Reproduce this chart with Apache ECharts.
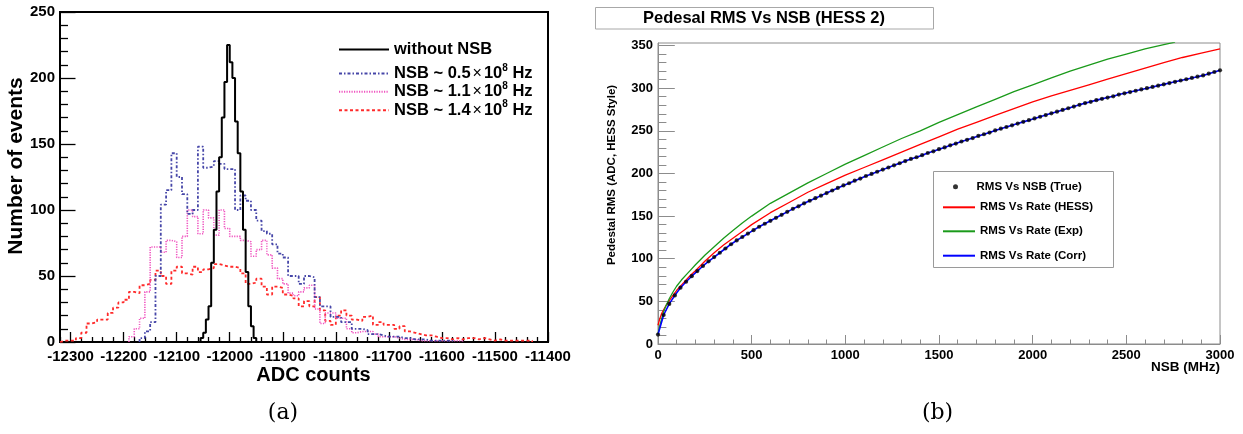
<!DOCTYPE html>
<html>
<head>
<meta charset="utf-8">
<script src="https://cdn.jsdelivr.net/npm/echarts@6/dist/echarts.min.js"></script>
<style>
html,body{margin:0;padding:0;background:#fff;}
#chart{width:1243px;height:434px;}
</style>
</head>
<body>
<div id="chart"></div>
<script>
// ---------- Panel (a): ADC histograms ----------
const adcMajorTicks = [-12300,-12200,-12100,-12000,-11900,-11800,-11700,-11600,-11500,-11400];
const countTicks = [0,50,100,150,200,250];

// without NSB: first bin edge, bin width, counts
const noNsbStart = -12055, noNsbWidth = 5;
const noNsbCounts = [3,7,17,27,60,85,114,140,170,197,225,212,200,167,143,114,85,53,27,12,3];

// NSB ~ 0.5e8 Hz
const nsb05Start = -12170, nsb05Width = 10;
const nsb05Counts = [3,8,15,50,104,115,143,125,112,97,100,148,132,133,137,135,131,131,100,111,107,100,92,84,82,74,67,64,50,50,44,50,49,34,27,27,19,19,15,15,10,10,9,6,6,5,4,4,4,3,3,2,2,2,1,1,1,1,1];

// NSB ~ 1.1e8 Hz
const nsb11Start = -12190, nsb11Width = 10;
const nsb11Counts = [4,10,18,38,72,72,68,77,76,64,80,100,95,82,100,94,81,100,86,80,80,77,76,65,70,77,66,56,48,44,37,35,38,41,43,25,14,22,22,18,18,10,7,8,8,8,6,4,4,4,3,2,2,2,1,1,1,1,1,1,1,1,1];

// NSB ~ 1.4e8 Hz
const nsb14Start = -12320, nsb14Width = 10;
const nsb14Counts = [1,1,1,3,7,14,15,17,17,22,26,30,32,38,37,43,44,47,54,50,44,54,57,52,51,57,53,55,56,59,58,57,57,56,52,44,45,48,42,36,42,41,36,35,33,27,31,27,34,24,16,13,20,24,20,17,16,19,20,13,15,13,13,10,12,8,7,6,5,5,4,3,3,2,3,2,3,3,2,3,2,1,2,1,1,1,1,1,1];

// ---------- Panel (b): Pedestal RMS vs NSB ----------
const rmsTicks = [0,50,100,150,200,250,300,350];
const nsbTrue = [0,30,60,90,120,150,180,210,240,270,300,330,360,390,420,450,480,510,540,570,600,630,660,690,720,750,780,810,840,870,900,930,960,990,1020,1050,1080,1110,1140,1170,1200,1230,1260,1290,1320,1350,1380,1410,1440,1470,1500,1530,1560,1590,1620,1650,1680,1710,1740,1770,1800,1830,1860,1890,1920,1950,1980,2010,2040,2070,2100,2130,2160,2190,2220,2250,2280,2310,2340,2370,2400,2430,2460,2490,2520,2550,2580,2610,2640,2670,2700,2730,2760,2790,2820,2850,2880,2910,2940,2970,3000];
const rmsTrue = [11,34,47,57,66,73,79.5,85.5,91.5,97,102,107,112,117,121.5,125.5,129.5,133.5,137.5,141,144.5,148,151.5,155,158.5,161.5,165,168,171,174,177,180,183,186,188.5,191.5,194,197,199.5,202,204.5,207,209.5,212,214.5,217,219,221.5,224,226,228.5,230.5,233,235,237.5,239.5,241.5,244,246,248,250.5,252.5,254.5,256.5,258.5,260.5,262.5,264.5,266.5,268.5,270.5,272.5,274.5,276.5,278.5,280.5,282.5,284,286,287.5,289,290.5,292.5,294,295.5,297,298.5,300,301.5,303,304.5,306,307.5,309,310.5,312,313.5,315,317,319,321];
const nsbHess = [0,10,20,30,45,60,80,100,125,150,175,200,250,300,350,400,450,500,600,700,800,900,1000,1100,1200,1300,1400,1500,1600,1700,1800,1900,2000,2100,2200,2300,2400,2500,2600,2700,2800,2900,3000];
const rmsHess = [22,30,36,40,46,51,57,63,69,75,81,86,97,107,116,124,132,140,154,166,178,188,198,207,216,225,234,243,252,260,268,276,284,291,297.5,304,310.5,317,323.5,330,336,341,346];
const nsbExp = [0,10,20,30,45,60,80,100,125,150,175,200,250,300,350,400,450,500,600,700,800,900,1000,1100,1200,1300,1400,1500,1600,1700,1800,1900,2000,2100,2200,2300,2400,2500,2600,2700,2760];
const rmsExp = [12,22,30,38,46,53,61,68,75,81,87,93,104,114,124,133,142,150,165,177,189,200,211,221,231,241,250,260,269,278,287,296,304,312,320,327,334,340,346,351,354];
const nsbCorr = nsbTrue;
const rmsCorr = rmsTrue;
const nsbMajorTicks = [0,500,1000,1500,2000,2500,3000];

// ---------- helpers ----------
function histPoints(start, width, counts) {
  const pts = [[start, 0]];
  counts.forEach((c, i) => pts.push([start + i * width, c]));
  pts.push([start + counts.length * width, 0]);
  return pts;
}
function pairs(xs, ys) { return xs.map((x, i) => [x, ys[i]]); }
function minorBetween(majors, step, lo, hi) {
  const out = [];
  for (let v = lo; v <= hi + 1e-9; v += step) {
    if (majors.indexOf(Math.round(v)) < 0) out.push(Math.round(v * 100) / 100);
  }
  return out;
}
const plain = v => String(v);

const FONT = "'Liberation Sans', Arial, Helvetica, sans-serif";
const lblA = {fontFamily: FONT, fontWeight: 'bold', fontSize: 15, color: '#000', formatter: plain};
const lblB = {fontFamily: FONT, fontWeight: 'bold', fontSize: 13, color: '#000', formatter: plain};
const greyAx = '#8c8c8c';

const chart = echarts.init(document.getElementById('chart'), null, {renderer: 'canvas'});

const nsbRich = {
  b: {fontFamily: FONT, fontWeight: 'bold', fontSize: 16.5, color: '#000'},
  m: {fontFamily: FONT, fontWeight: 'normal', fontSize: 16, color: '#000', padding: [0, 2, 0, 2]},
  s: {fontFamily: FONT, fontWeight: 'bold', fontSize: 10, color: '#000', padding: [0, 0, 11, 0]}
};
function nsbFormatter(name) {
  const m = name.match(/NSB ~ ([0-9.]+)/);
  if (!m) return name;
  return '{b|NSB ~ ' + m[1] + '}{m|×}{b|10}{s|8}{b| Hz}';
}
const hideSym = {opacity: 0};
const legTxtB = {fontFamily: FONT, fontWeight: 'bold', fontSize: 11.5, color: '#000'};

const option = {
  animation: false,
  backgroundColor: '#fff',
  grid: [
    {left: 60, top: 12, width: 488, height: 330, show: true, borderColor: '#000', borderWidth: 2, backgroundColor: 'transparent', containLabel: false},
    {left: 658, top: 43, width: 562, height: 301, show: true, borderColor: greyAx, borderWidth: 1, backgroundColor: 'transparent', containLabel: false}
  ],
  xAxis: [
    {gridIndex: 0, type: 'value', position: 'bottom', min: -12320, max: -11400,
     axisLine: {lineStyle: {color: '#000', width: 2}},
     axisTick: {inside: true, length: 10, customValues: adcMajorTicks, lineStyle: {color: '#000', width: 1.3}},
     axisLabel: {customValues: adcMajorTicks, margin: 7, ...lblA},
     splitLine: {show: false}},
    {gridIndex: 0, type: 'value', position: 'bottom', min: -12320, max: -11400,
     axisLine: {show: false},
     axisTick: {inside: true, length: 5, customValues: minorBetween(adcMajorTicks, 20, -12320, -11400), lineStyle: {color: '#000', width: 1.3}},
     axisLabel: {show: false}, splitLine: {show: false}},
    {gridIndex: 1, type: 'value', position: 'bottom', min: 0, max: 3000,
     axisLine: {lineStyle: {color: greyAx, width: 1}},
     axisTick: {inside: true, length: 9, customValues: nsbMajorTicks, lineStyle: {color: greyAx, width: 1}},
     axisLabel: {customValues: nsbMajorTicks, margin: 5, ...lblB},
     splitLine: {show: false}},
    {gridIndex: 1, type: 'value', position: 'bottom', min: 0, max: 3000,
     axisLine: {show: false},
     axisTick: {inside: true, length: 4.5, customValues: minorBetween(nsbMajorTicks, 100, 0, 3000), lineStyle: {color: greyAx, width: 1}},
     axisLabel: {show: false}, splitLine: {show: false}}
  ],
  yAxis: [
    {gridIndex: 0, type: 'value', position: 'left', min: 0, max: 250,
     axisLine: {lineStyle: {color: '#000', width: 2}},
     axisTick: {inside: true, length: 15.5, customValues: countTicks, lineStyle: {color: '#000', width: 1.3}},
     axisLabel: {customValues: countTicks, margin: 5, ...lblA},
     splitLine: {show: false}},
    {gridIndex: 0, type: 'value', position: 'left', min: 0, max: 250,
     axisLine: {show: false},
     axisTick: {inside: true, length: 8, customValues: minorBetween(countTicks, 10, 0, 250), lineStyle: {color: '#000', width: 1.3}},
     axisLabel: {show: false}, splitLine: {show: false}},
    {gridIndex: 1, type: 'value', position: 'left', min: 0, max: 353,
     axisLine: {lineStyle: {color: greyAx, width: 1}},
     axisTick: {inside: true, length: 16.8, customValues: rmsTicks, lineStyle: {color: greyAx, width: 1}},
     axisLabel: {customValues: rmsTicks, margin: 5, ...lblB},
     splitLine: {show: false}},
    {gridIndex: 1, type: 'value', position: 'left', min: 0, max: 353,
     axisLine: {show: false},
     axisTick: {inside: true, length: 8.4, customValues: minorBetween(rmsTicks, 10, 0, 350), lineStyle: {color: greyAx, width: 1}},
     axisLabel: {show: false}, splitLine: {show: false}}
  ],
  legend: [
    {data: ['without NSB'], left: 338, top: 41, padding: 0, itemWidth: 50, itemHeight: 14, selectedMode: false, itemStyle: hideSym,
     textStyle: {fontFamily: FONT, fontWeight: 'bold', fontSize: 16.5, color: '#000'}},
    {data: ['NSB ~ 0.5 × 10^8 Hz'], left: 338, top: 63, padding: 0, itemWidth: 50, itemHeight: 14, selectedMode: false, itemStyle: hideSym,
     formatter: nsbFormatter, textStyle: {rich: nsbRich}},
    {data: ['NSB ~ 1.1 × 10^8 Hz'], left: 338, top: 81.3, padding: 0, itemWidth: 50, itemHeight: 14, selectedMode: false, itemStyle: hideSym,
     formatter: nsbFormatter, textStyle: {rich: nsbRich}},
    {data: ['NSB ~ 1.4 × 10^8 Hz'], left: 338, top: 99.7, padding: 0, itemWidth: 50, itemHeight: 14, selectedMode: false, itemStyle: hideSym,
     formatter: nsbFormatter, textStyle: {rich: nsbRich}},
    {data: ['RMS Vs NSB (True)'], left: 953, top: 180.8, padding: 0, itemWidth: 32, itemHeight: 5, selectedMode: false,
     textStyle: legTxtB},
    {data: ['RMS Vs Rate (HESS)'], left: 942, top: 201.3, padding: 0, itemWidth: 32, itemHeight: 14, selectedMode: false, itemStyle: hideSym,
     textStyle: legTxtB},
    {data: ['RMS Vs Rate (Exp)'], left: 942, top: 225.3, padding: 0, itemWidth: 32, itemHeight: 14, selectedMode: false, itemStyle: hideSym,
     textStyle: legTxtB},
    {data: ['RMS Vs Rate (Corr)'], left: 942, top: 249.7, padding: 0, itemWidth: 32, itemHeight: 14, selectedMode: false, itemStyle: hideSym,
     textStyle: legTxtB}
  ],
  graphic: [
    {type: 'text', x: 16, y: 166, rotation: Math.PI / 2,
     style: {text: 'Number of events', font: "bold 21px 'Liberation Sans', Arial, sans-serif", fill: '#000', align: 'center', verticalAlign: 'middle'}},
    {type: 'text', x: 313.5, y: 375,
     style: {text: 'ADC counts', font: "bold 20px 'Liberation Sans', Arial, sans-serif", fill: '#000', align: 'center', verticalAlign: 'middle'}},
    {type: 'text', x: 283, y: 413,
     style: {text: '(a)', font: "22px 'DejaVu Serif', serif", fill: '#000', align: 'center', verticalAlign: 'middle'}},
    {type: 'text', x: 937.5, y: 413,
     style: {text: '(b)', font: "22px 'DejaVu Serif', serif", fill: '#000', align: 'center', verticalAlign: 'middle'}},
    {type: 'rect', shape: {x: 595.5, y: 7.5, width: 338, height: 21.5},
     style: {fill: '#fff', stroke: '#a8a8a8', lineWidth: 1}},
    {type: 'text', x: 764, y: 18.5,
     style: {text: 'Pedesal RMS Vs NSB (HESS 2)', font: "bold 16.5px 'Liberation Sans', Arial, sans-serif", fill: '#000', align: 'center', verticalAlign: 'middle'}},
    {type: 'rect', shape: {x: 933.5, y: 171.5, width: 180, height: 96},
     style: {fill: 'transparent', stroke: '#9a9a9a', lineWidth: 1}, z: -1},
    {type: 'text', x: 612, y: 175, rotation: Math.PI / 2,
     style: {text: 'Pedestal RMS (ADC, HESS Style)', font: "bold 11.5px 'Liberation Sans', Arial, sans-serif", fill: '#000', align: 'center', verticalAlign: 'middle'}},
    {type: 'text', x: 1220, y: 367.5,
     style: {text: 'NSB (MHz)', font: "bold 13.5px 'Liberation Sans', Arial, sans-serif", fill: '#000', align: 'right', verticalAlign: 'middle'}}
  ],
  series: [
    {name: 'NSB ~ 1.4 × 10^8 Hz', type: 'line', xAxisIndex: 0, yAxisIndex: 0, step: 'end', symbol: 'none',
     color: '#ff2a2a', lineStyle: {color: '#ff2a2a', width: 1.8, type: [3, 2.5]},
     data: histPoints(nsb14Start, nsb14Width, nsb14Counts), z: 2},
    {name: 'NSB ~ 1.1 × 10^8 Hz', type: 'line', xAxisIndex: 0, yAxisIndex: 0, step: 'end', symbol: 'none',
     color: '#f055c0', lineStyle: {color: '#f055c0', width: 1.6, type: [1.2, 1.3]},
     data: histPoints(nsb11Start, nsb11Width, nsb11Counts), z: 3},
    {name: 'NSB ~ 0.5 × 10^8 Hz', type: 'line', xAxisIndex: 0, yAxisIndex: 0, step: 'end', symbol: 'none',
     color: '#4646a8', lineStyle: {color: '#4646a8', width: 1.8, type: [3, 2, 1.5, 2]},
     data: histPoints(nsb05Start, nsb05Width, nsb05Counts), z: 4},
    {name: 'without NSB', type: 'line', xAxisIndex: 0, yAxisIndex: 0, step: 'end', symbol: 'none',
     color: '#000', lineStyle: {color: '#000', width: 2},
     data: histPoints(noNsbStart, noNsbWidth, noNsbCounts), z: 5},

    {name: 'RMS Vs Rate (HESS)', type: 'line', xAxisIndex: 2, yAxisIndex: 2, symbol: 'none', smooth: false,
     color: '#ff0000', lineStyle: {color: '#ff0000', width: 1.3}, data: pairs(nsbHess, rmsHess), clip: true, z: 3},
    {name: 'RMS Vs Rate (Exp)', type: 'line', xAxisIndex: 2, yAxisIndex: 2, symbol: 'none', smooth: false,
     color: '#1a9a1a', lineStyle: {color: '#1a9a1a', width: 1.3}, data: pairs(nsbExp, rmsExp), clip: true, z: 3},
    {name: 'RMS Vs Rate (Corr)', type: 'line', xAxisIndex: 2, yAxisIndex: 2, symbol: 'none', smooth: false,
     color: '#0000ff', lineStyle: {color: '#0000ff', width: 1.6}, data: pairs(nsbCorr, rmsCorr), clip: true, z: 4},
    {name: 'RMS Vs NSB (True)', type: 'scatter', xAxisIndex: 2, yAxisIndex: 2, symbol: 'circle', symbolSize: 4.2,
     color: '#000', itemStyle: {color: '#000'}, data: pairs(nsbTrue, rmsTrue), z: 5}
  ]
};
chart.setOption(option);
</script>
</body>
</html>
